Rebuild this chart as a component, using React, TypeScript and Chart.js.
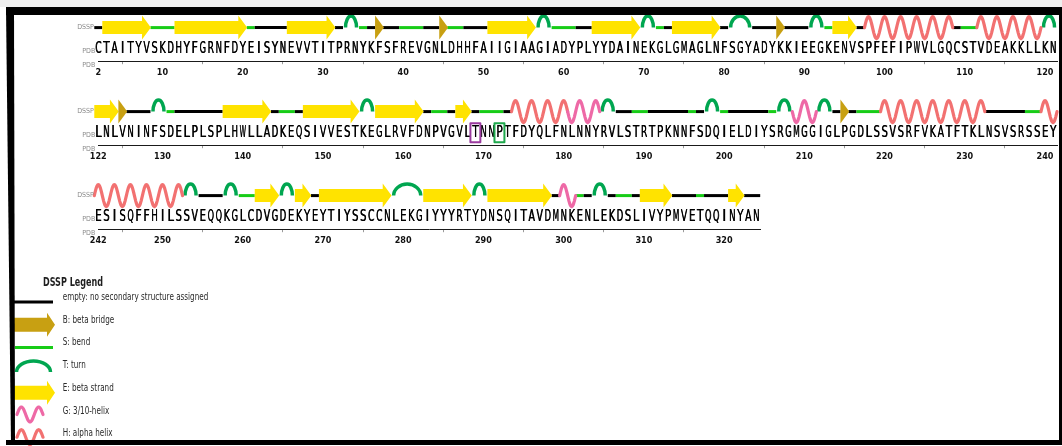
import { useEffect, useRef } from 'react';
import { Chart, registerables } from 'chart.js';

Chart.register(...registerables);

// ---------------- data ----------------
const ROW_START_RESIDUES = [2, 122, 242];

const ROW_SEQUENCES = [
  'CTAITYVSKDHYFGRNFDYEISYNEVVTITPRNYKFSFREVGNLDHHFAIIGIAAGIADYPLYYDAINEKGLGMAGLNFSGYADYKKIEEGKENVSPFEFIPWVLGQCSTVDEAKKLLKN',
  'LNLVNINFSDELPLSPLHWLLADKEQSIVVESTKEGLRVFDNPVGVLTNNPTFDYQLFNLNNYRVLSTRTPKNNFSDQIELDIYSRGMGGIGLPGDLSSVSRFVKATFTKLNSVSRSSEY',
  'ESISQFFHILSSVEQQKGLCDVGDEKYEYTIYSSCCNLEKGIYYYRTYDNSQITAVDMNKENLEKDSLIVYPMVETQQINYAN',
];

type Seg = [string, number, number];

const DSSP_ROW_1: Seg[] = [
  ['-', 2, 2], ['E', 3, 8], ['S', 9, 11], ['E', 12, 20], ['S', 21, 21], ['-', 22, 25],
  ['E', 26, 31], ['-', 32, 32], ['T', 33, 34], ['S', 35, 35], ['-', 36, 36], ['B', 37, 37],
  ['-', 38, 39], ['S', 40, 42], ['-', 43, 44], ['B', 45, 45], ['S', 46, 47], ['-', 48, 50],
  ['E', 51, 56], ['T', 57, 58], ['S', 59, 61], ['-', 62, 63], ['E', 64, 69], ['T', 70, 71],
  ['S', 72, 72], ['-', 73, 73], ['E', 74, 79], ['-', 80, 80], ['T', 81, 83], ['-', 84, 86],
  ['B', 87, 87], ['-', 88, 90], ['T', 91, 92], ['S', 93, 93], ['E', 94, 96], ['-', 97, 97],
  ['H', 98, 108], ['-', 109, 109], ['S', 110, 111], ['H', 112, 119], ['T', 120, 121],
];

const DSSP_ROW_2: Seg[] = [
  ['E', 122, 124], ['B', 125, 125], ['-', 126, 128], ['T', 129, 130], ['S', 131, 131],
  ['-', 132, 137], ['E', 138, 143], ['-', 144, 144], ['S', 145, 146], ['-', 147, 147],
  ['E', 148, 154], ['T', 155, 156], ['E', 157, 162], ['-', 163, 163], ['S', 164, 165],
  ['-', 166, 166], ['E', 167, 168], ['-', 169, 169], ['S', 170, 172], ['-', 173, 173],
  ['H', 174, 180], ['G', 181, 184], ['T', 185, 186], ['-', 187, 188], ['S', 189, 190],
  ['-', 191, 195], ['S', 196, 196], ['-', 197, 197], ['T', 198, 199], ['S', 200, 200],
  ['-', 201, 205], ['S', 206, 206], ['T', 207, 208], ['G', 209, 211], ['T', 212, 213],
  ['-', 214, 214], ['B', 215, 215], ['-', 216, 216], ['S', 217, 219], ['H', 220, 232],
  ['-', 233, 237], ['S', 238, 239], ['H', 240, 241],
];

const DSSP_ROW_3: Seg[] = [
  ['H', 242, 252], ['T', 253, 254], ['-', 255, 257], ['T', 258, 259], ['S', 260, 261],
  ['E', 262, 264], ['T', 265, 266], ['E', 267, 268], ['-', 269, 269], ['E', 270, 278],
  ['T', 279, 282], ['E', 283, 288], ['T', 289, 290], ['E', 291, 298], ['-', 299, 299],
  ['G', 300, 301], ['S', 302, 302], ['-', 303, 303], ['T', 304, 305], ['-', 306, 306],
  ['S', 307, 308], ['-', 309, 309], ['E', 310, 313], ['-', 314, 316], ['S', 317, 317],
  ['-', 318, 320], ['E', 321, 322], ['-', 323, 324],
];

const DSSP_ROWS = [DSSP_ROW_1, DSSP_ROW_2, DSSP_ROW_3];

const HIGHLIGHT_RESIDUES = [169, 172];
const HIGHLIGHT_COLORS = ['#9a3b9e', '#1ea84c'];

const TICK_STEP = 5;
const LABEL_STEP = 10;

const LEGEND_TITLE = 'DSSP Legend';
const LEGEND_CODES = ['-', 'B', 'S', 'T', 'E', 'G', 'H'];
const LEGEND_LABELS = [
  'empty: no secondary structure assigned',
  'B: beta bridge',
  'S: bend',
  'T: turn',
  'E: beta strand',
  'G: 3/10-helix',
  'H: alpha helix',
];

// ---------------- styling / layout ----------------
const DSSP_COLORS: Record<string, string> = {
  '-': '#000000',
  S: '#17cc17',
  E: '#ffe300',
  B: '#c8a012',
  T: '#00a650',
  G: '#ee69a6',
  H: '#f27171',
};

const CANVAS_W = 1062;
const ROW_H = 84;
const CELL_PX = 8.023;
const FIRST_CENTER_PX = 98.3;
const DSSP_LEVEL = 0.62;
const SEQ_LEVEL = 0.15;
const NARROW = '"Liberation Sans Narrow", "DejaVu Sans Condensed", "Liberation Sans", sans-serif';

// ---------------- drawing helpers ----------------
function strokeLine(ctx: CanvasRenderingContext2D, x0: number, x1: number, y: number, color: string, lw = 3) {
  ctx.beginPath();
  ctx.strokeStyle = color;
  ctx.lineWidth = lw;
  ctx.lineCap = 'butt';
  ctx.moveTo(x0, y);
  ctx.lineTo(x1, y);
  ctx.stroke();
}

function fillArrow(ctx: CanvasRenderingContext2D, x0: number, xh: number, xt: number, y: number, body: number, head: number, color: string) {
  ctx.beginPath();
  ctx.fillStyle = color;
  ctx.moveTo(x0, y - body);
  ctx.lineTo(xh, y - body);
  ctx.lineTo(xh, y - head);
  ctx.lineTo(xt, y);
  ctx.lineTo(xh, y + head);
  ctx.lineTo(xh, y + body);
  ctx.lineTo(x0, y + body);
  ctx.closePath();
  ctx.fill();
}

function fillTriangle(ctx: CanvasRenderingContext2D, x0: number, xt: number, y: number, head: number, color: string) {
  ctx.beginPath();
  ctx.fillStyle = color;
  ctx.moveTo(x0, y - head);
  ctx.lineTo(xt, y);
  ctx.lineTo(x0, y + head);
  ctx.closePath();
  ctx.fill();
}

function strokeArch(ctx: CanvasRenderingContext2D, x0: number, x1: number, y: number, ry: number, color: string) {
  ctx.beginPath();
  ctx.strokeStyle = color;
  ctx.lineWidth = 3.5;
  ctx.lineCap = 'butt';
  ctx.ellipse((x0 + x1) / 2, y, Math.max(1, (x1 - x0) / 2), ry, 0, Math.PI, 2 * Math.PI);
  ctx.stroke();
}

// halves: list of [xStart, xEnd, up]
function strokeWave(ctx: CanvasRenderingContext2D, halves: [number, number, boolean][], y: number, amp: number, color: string) {
  ctx.beginPath();
  ctx.strokeStyle = color;
  ctx.lineWidth = 3.2;
  ctx.lineJoin = 'round';
  ctx.lineCap = 'round';
  let first = true;
  for (const [xa, xb, up] of halves) {
    const steps = 12;
    for (let k = 0; k <= steps; k++) {
      const t = k / steps;
      const x = xa + (xb - xa) * t;
      const yy = y + (up ? -1 : 1) * amp * Math.sin(Math.PI * t);
      if (first) {
        ctx.moveTo(x, yy);
        first = false;
      } else {
        ctx.lineTo(x, yy);
      }
    }
  }
  ctx.stroke();
}

// ---------------- row chart ----------------
function makeRowPlugin(row: number) {
  return {
    id: 'dsspRow' + row,
    afterDraw(chart: any) {
      const ctx: CanvasRenderingContext2D = chart.ctx;
      const xs = chart.scales.x;
      const ys = chart.scales.y;
      const px = (r: number) => xs.getPixelForValue(r);
      const yD = ys.getPixelForValue(DSSP_LEVEL);
      const yL = ys.getPixelForValue(SEQ_LEVEL);
      const start = ROW_START_RESIDUES[row];
      const seq = ROW_SEQUENCES[row];
      const segs = DSSP_ROWS[row];

      ctx.save();
      // lines first
      for (const [c, a, b] of segs) {
        if (c === '-' || c === 'S') strokeLine(ctx, px(a - 0.5), px(b + 0.5), yD, DSSP_COLORS[c]);
      }
      // strands and bridges
      for (const [c, a, b] of segs) {
        if (c === 'E') fillArrow(ctx, px(a - 0.5), px(b - 0.55), px(b + 0.55), yD, 6.5, 12, DSSP_COLORS.E);
        if (c === 'B') fillTriangle(ctx, px(a - 0.5), px(b + 0.6), yD, 12, DSSP_COLORS.B);
      }
      // turns
      for (const [c, a, b] of segs) {
        if (c === 'T') strokeArch(ctx, px(a - 0.5) + 2.5, px(b + 0.5) - 2.5, yD, 11.5, DSSP_COLORS.T);
      }
      // helices
      for (const [c, a, b] of segs) {
        if (c === 'H' || c === 'G') {
          const halves: [number, number, boolean][] = [];
          for (let r = a; r <= b; r++) halves.push([px(r - 0.5), px(r + 0.5), r % 2 === 0]);
          strokeWave(ctx, halves, yD, 11, DSSP_COLORS[c]);
        }
      }
      // sequence letters
      ctx.fillStyle = '#000000';
      ctx.font = '15px ' + NARROW;
      ctx.textAlign = 'center';
      ctx.textBaseline = 'alphabetic';
      for (let i = 0; i < seq.length; i++) {
        ctx.fillText(seq[i], px(start + i), yL, CELL_PX * 0.8);
        ctx.fillText(seq[i], px(start + i) + 0.35, yL, CELL_PX * 0.8);
      }
      // highlighted residues
      HIGHLIGHT_RESIDUES.forEach((res, k) => {
        const i = res - start;
        if (i < 0 || i >= seq.length) return;
        ctx.strokeStyle = HIGHLIGHT_COLORS[k];
        ctx.lineWidth = 2;
        const x0 = px(res - 0.62);
        const x1 = px(res + 0.62);
        ctx.strokeRect(x0, yL - 13.8, x1 - x0, 19);
      });
      // small labels
      ctx.fillStyle = '#8a8a8a';
      ctx.font = '7px ' + NARROW;
      ctx.textAlign = 'right';
      ctx.textBaseline = 'middle';
      const xl = px(start - 0.5);
      ctx.fillText('DSSP', xl - 0.5, yD);
      ctx.textBaseline = 'alphabetic';
      ctx.fillText('PDB', xl + 1, yL);
      ctx.textBaseline = 'middle';
      ctx.fillText('PDB', xl + 1, chart.chartArea.bottom + 4);
      ctx.restore();
    },
  };
}

function RowChart({ row }: { row: number }) {
  const ref = useRef<HTMLCanvasElement>(null);
  useEffect(() => {
    const start = ROW_START_RESIDUES[row];
    const n = ROW_SEQUENCES[row].length;
    const last = start + n - 1;
    const rightPad = CANVAS_W - (FIRST_CENTER_PX + (n - 0.5) * CELL_PX);
    const tickValues: number[] = [start];
    for (let v = Math.ceil((start + 1) / TICK_STEP) * TICK_STEP; v <= last; v += TICK_STEP) tickValues.push(v);
    const isLabelled = (v: number) => v === start || v % LABEL_STEP === 0;

    const chart = new Chart(ref.current as HTMLCanvasElement, {
      type: 'scatter',
      data: { datasets: [] },
      options: {
        responsive: false,
        animation: false,
        events: [],
        layout: { padding: { left: FIRST_CENTER_PX, right: rightPad, top: 7, bottom: 3 } },
        plugins: { legend: { display: false }, tooltip: { enabled: false } },
        scales: {
          x: {
            type: 'linear',
            position: 'bottom',
            min: start,
            max: last + 0.5,
            afterBuildTicks: (axis: any) => {
              axis.ticks = tickValues.map((v) => ({ value: v }));
            },
            ticks: {
              autoSkip: false,
              maxRotation: 0,
              minRotation: 0,
              padding: 3,
              color: '#111111',
              font: { family: NARROW, size: 9, weight: 'bold' },
              callback: (v: any) => (isLabelled(Number(v)) ? String(v) : ''),
            },
            grid: {
              drawOnChartArea: false,
              drawTicks: true,
              tickLength: 3,
              tickWidth: 1,
              tickColor: (c: any) => (c.tick && isLabelled(c.tick.value) ? 'rgba(0,0,0,0)' : '#9a9a9a'),
            },
            border: { display: true, color: '#1a1a1a', width: 1 },
          },
          y: { display: false, min: 0, max: 1 },
        },
      } as any,
      plugins: [makeRowPlugin(row)],
    });
    return () => chart.destroy();
  }, [row]);
  return (
    <canvas
      ref={ref}
      width={CANVAS_W}
      height={ROW_H}
      style={{ position: 'absolute', left: 0, top: row * ROW_H, width: CANVAS_W, height: ROW_H }}
    />
  );
}

// ---------------- legend chart ----------------
const LEGEND_W = 300;
const LEGEND_H = 181;
const LEGEND_TOP = 265;

const legendPlugin = {
  id: 'dsspLegend',
  afterDraw(chart: any) {
    const ctx: CanvasRenderingContext2D = chart.ctx;
    const xs = chart.scales.x;
    const ys = chart.scales.y;
    const X = (v: number) => xs.getPixelForValue(v);
    const Y = (v: number) => ys.getPixelForValue(v);
    ctx.save();
    // title
    ctx.fillStyle = '#1e1e1e';
    ctx.font = 'bold 12px ' + NARROW;
    ctx.textAlign = 'left';
    ctx.textBaseline = 'alphabetic';
    const tw = ctx.measureText(LEGEND_TITLE).width;
    ctx.save();
    ctx.translate(X(43), Y(20.5));
    ctx.scale(60 / tw, 1);
    ctx.fillText(LEGEND_TITLE, 0, 0);
    ctx.restore();

    ctx.font = '10px ' + NARROW;
    const lw0 = ctx.measureText(LEGEND_LABELS[0]).width;
    const s = 145.6 / lw0;
    LEGEND_CODES.forEach((code, i) => {
      const bl = Y(35 + 22.7 * i);
      const color = DSSP_COLORS[code];
      if (code === '-') strokeLine(ctx, X(13), X(53), bl + 2, color);
      if (code === 'S') strokeLine(ctx, X(15), X(53), bl + 2, color);
      if (code === 'B' || code === 'E') fillArrow(ctx, X(12), X(47), X(55), bl + 2, 7, 12, color);
      if (code === 'T') strokeArch(ctx, X(16.5), X(50.5), bl + 4, 11, color);
      if (code === 'G' || code === 'H') {
        const halves: [number, number, boolean][] = [
          [X(17), X(25.7), true],
          [X(25.7), X(34.3), false],
          [X(34.3), X(43), true],
        ];
        strokeWave(ctx, halves, bl + 1, 7.5, color);
      }
      ctx.fillStyle = '#2a2a2a';
      ctx.save();
      ctx.translate(X(62.7), bl);
      ctx.scale(s, 1);
      ctx.fillText(LEGEND_LABELS[i], 0, 0);
      ctx.restore();
    });
    ctx.restore();
  },
};

function LegendChart() {
  const ref = useRef<HTMLCanvasElement>(null);
  useEffect(() => {
    const chart = new Chart(ref.current as HTMLCanvasElement, {
      type: 'scatter',
      data: { datasets: [] },
      options: {
        responsive: false,
        animation: false,
        events: [],
        layout: { padding: 0 },
        plugins: { legend: { display: false }, tooltip: { enabled: false } },
        scales: {
          x: { display: false, type: 'linear', min: 0, max: LEGEND_W },
          y: { display: false, type: 'linear', min: 0, max: LEGEND_H, reverse: true },
        },
      } as any,
      plugins: [legendPlugin],
    });
    return () => chart.destroy();
  }, []);
  return (
    <canvas
      ref={ref}
      width={LEGEND_W}
      height={LEGEND_H}
      style={{ position: 'absolute', left: 0, top: LEGEND_TOP, width: LEGEND_W, height: LEGEND_H }}
    />
  );
}

// ---------------- app ----------------
export default function App() {
  const black = '#000';
  return (
    <div
      style={{
        position: 'fixed',
        left: 0,
        top: 0,
        width: CANVAS_W,
        height: 446,
        background: '#ffffff',
        overflow: 'hidden',
      }}
    >
      <RowChart row={0} />
      <RowChart row={1} />
      <RowChart row={2} />
      <LegendChart />
      <div style={{ position: 'absolute', left: 0, top: 0, width: CANVAS_W, height: 7, background: '#efefef' }} />
      <div style={{ position: 'absolute', left: 6, top: 7, width: CANVAS_W - 6, height: 8, background: black }} />
      <div
        style={{
          position: 'absolute',
          left: 0,
          top: 0,
          width: 20,
          height: 446,
          background: black,
          clipPath: 'polygon(6px 7px, 14px 7px, 15px 445px, 11px 445px)',
        }}
      />
      <div style={{ position: 'absolute', left: 1059, top: 7, width: 3, height: 438, background: black }} />
      <div style={{ position: 'absolute', left: 6, top: 440, width: CANVAS_W - 6, height: 5, background: black }} />
    </div>
  );
}
